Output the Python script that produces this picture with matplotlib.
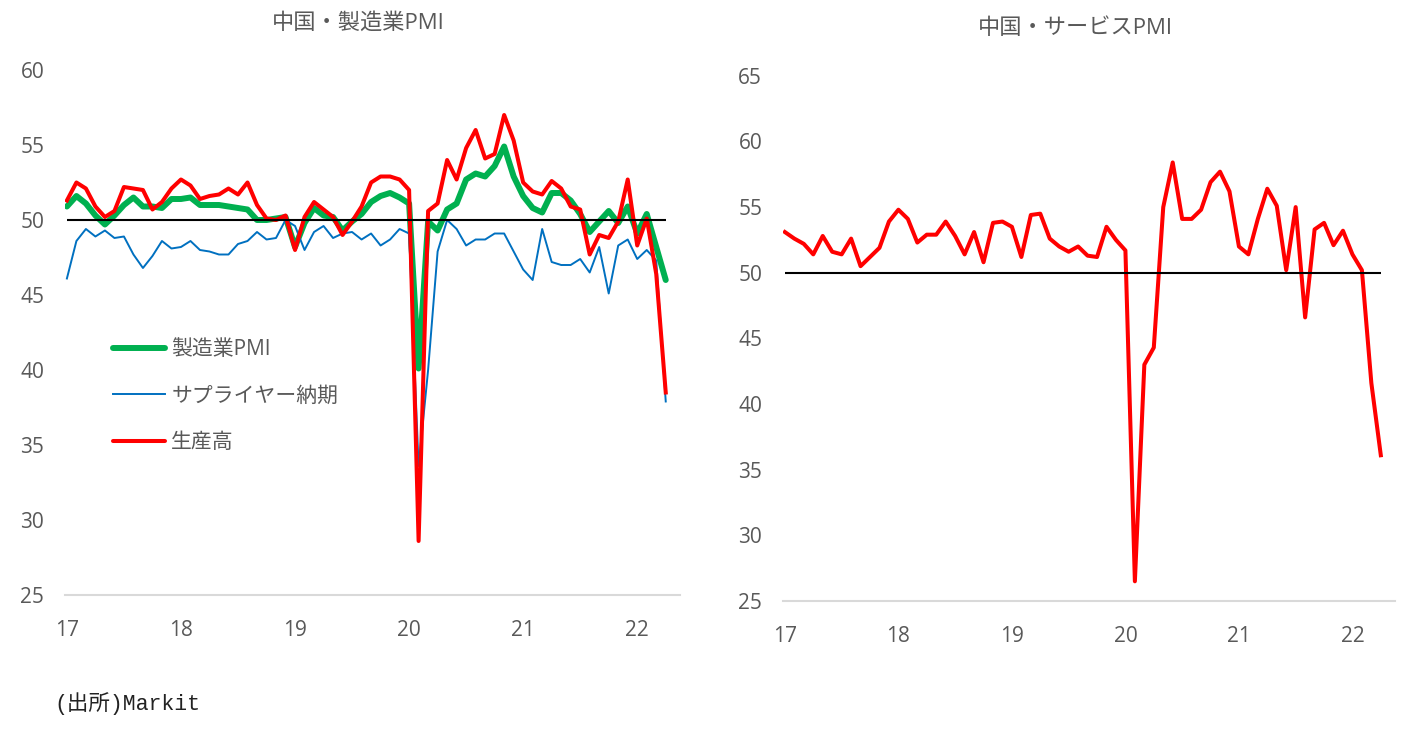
import matplotlib
matplotlib.use("Agg")
import matplotlib.pyplot as plt
from matplotlib.lines import Line2D

plt.rcParams['font.family'] = ['Open Sans', 'Noto Sans CJK JP', 'DejaVu Sans']

# ---- data (monthly, 2017-01 .. 2022-04) ----
year_labels = ['17', '18', '19', '20', '21', '22']

manufacturing_pmi = [
    50.9, 51.6, 51.1, 50.3, 49.7, 50.3, 51.0, 51.5, 50.9, 50.9, 50.8, 51.4,
    51.4, 51.5, 51.0, 51.0, 51.0, 50.9, 50.8, 50.7, 50.0, 50.0, 50.1, 50.2,
    48.2, 49.8, 50.8, 50.3, 50.2, 49.3, 49.9, 50.4, 51.2, 51.6, 51.8, 51.5,
    51.1, 40.1, 49.9, 49.3, 50.7, 51.1, 52.7, 53.1, 52.9, 53.6, 54.9, 52.9,
    51.6, 50.8, 50.5, 51.8, 51.8, 51.3, 50.4, 49.2, 49.9, 50.6, 49.8, 50.9,
    49.1, 50.4, 48.2, 46.0,
]

supplier_delivery = [
    46.1, 48.6, 49.4, 48.9, 49.3, 48.8, 48.9, 47.7, 46.8, 47.6, 48.6, 48.1,
    48.2, 48.6, 48.0, 47.9, 47.7, 47.7, 48.4, 48.6, 49.2, 48.7, 48.8, 50.0,
    49.6, 48.0, 49.2, 49.6, 48.8, 49.1, 49.2, 48.7, 49.1, 48.3, 48.7, 49.4,
    49.1, 33.6, 40.0, 47.9, 50.0, 49.4, 48.3, 48.7, 48.7, 49.1, 49.1, 47.9,
    46.7, 46.0, 49.4, 47.2, 47.0, 47.0, 47.4, 46.5, 48.2, 45.1, 48.3, 48.7,
    47.4, 48.0, 47.3, 37.9,
]

output_index = [
    51.3, 52.5, 52.1, 50.9, 50.2, 50.6, 52.2, 52.1, 52.0, 50.7, 51.2, 52.1,
    52.7, 52.3, 51.4, 51.6, 51.7, 52.1, 51.7, 52.5, 51.0, 50.1, 50.0, 50.3,
    48.0, 50.2, 51.2, 50.7, 50.2, 49.0, 49.9, 50.9, 52.5, 52.9, 52.9, 52.7,
    52.0, 28.6, 50.6, 51.1, 54.0, 52.7, 54.8, 56.0, 54.1, 54.4, 57.0, 55.3,
    52.5, 51.9, 51.7, 52.6, 52.1, 50.9, 50.7, 47.7, 49.0, 48.8, 49.9, 52.7,
    48.3, 50.1, 46.4, 38.5,
]

services_pmi = [
    53.1, 52.6, 52.2, 51.4, 52.8, 51.6, 51.4, 52.6, 50.5, 51.2, 51.9, 53.9,
    54.8, 54.1, 52.3, 52.9, 52.9, 53.9, 52.8, 51.4, 53.1, 50.8, 53.8, 53.9,
    53.5, 51.2, 54.4, 54.5, 52.6, 52.0, 51.6, 52.0, 51.3, 51.2, 53.5, 52.5,
    51.7, 26.5, 43.0, 44.3, 55.0, 58.4, 54.1, 54.1, 54.8, 56.9, 57.7, 56.2,
    52.0, 51.4, 54.1, 56.4, 55.1, 50.2, 55.0, 46.6, 53.3, 53.8, 52.1, 53.2,
    51.4, 50.2, 41.6, 36.1,
]

threshold = 50

series_names = ['製造業PMI', 'サプライヤー納期', '生産高']
titles = ['中国・製造業PMI', '中国・サービスPMI']
source_text = '(出所)Markit'

GREEN = '#00B050'
BLUE = '#0070C0'
RED = '#FF0000'
GRAY = '#595959'

W, H = 1426, 734
fig = plt.figure(figsize=(W / 100, H / 100), dpi=100)

months = list(range(len(manufacturing_pmi)))
year_ticks = months[::12]


def style_axes(ax, ylim, ystep):
    for s in ('top', 'right', 'left'):
        ax.spines[s].set_visible(False)
    ax.spines['bottom'].set_color('#D9D9D9')
    ax.spines['bottom'].set_linewidth(1.5)
    ax.set_xlim(-0.2, len(months) + 0.5)
    ax.set_ylim(*ylim)
    ax.set_yticks(range(ylim[0], ylim[1] + 1, ystep))
    ax.set_xticks(year_ticks)
    ax.set_xticklabels(year_labels)
    ax.tick_params(axis='both', length=0, labelsize=15, labelcolor=GRAY)
    ax.tick_params(axis='x', pad=18)
    ax.tick_params(axis='y', pad=15)


# ---- left: manufacturing ----
ax1 = fig.add_axes([65 / W, 1 - 595 / H, (680 - 65) / W, (595 - 70) / H])
style_axes(ax1, (25, 60), 5)
ax1.plot(months, manufacturing_pmi, color=GREEN, lw=4.3, solid_capstyle='round', zorder=2)
ax1.plot(months, supplier_delivery, color=BLUE, lw=1.4, zorder=3)
ax1.plot(months, output_index, color=RED, lw=2.9, zorder=4)
ax1.hlines(threshold, months[0], months[-1], color='black', lw=1.5, zorder=5)

handles = [
    Line2D([], [], color=GREEN, lw=4.3, solid_capstyle='round'),
    Line2D([], [], color=BLUE, lw=1.4),
    Line2D([], [], color=RED, lw=2.9, solid_capstyle='round'),
]
leg = ax1.legend(handles, series_names, loc='upper left',
                 bbox_to_anchor=(113 / W, 1 - 339 / H), bbox_transform=fig.transFigure,
                 frameon=False, fontsize=15, handlelength=2.5, handletextpad=0.3,
                 labelspacing=1.22, borderpad=0, borderaxespad=0)
for t in leg.get_texts():
    t.set_color(GRAY)

# ---- right: services ----
ax2 = fig.add_axes([783 / W, 1 - 601 / H, (1395 - 783) / W, (601 - 75.8) / H])
style_axes(ax2, (25, 65), 5)
ax2.plot(months, services_pmi, color=RED, lw=2.9, zorder=4)
ax2.hlines(threshold, months[0], months[-1], color='black', lw=1.5, zorder=5)

# ---- titles and source ----
fig.text(358 / W, 1 - 23 / H, titles[0], ha='center', va='center', fontsize=16, color=GRAY)
fig.text(1075 / W, 1 - 28 / H, titles[1], ha='center', va='center', fontsize=16, color=GRAY)
fig.text(54 / W, 1 - 704 / H, source_text, ha='left', va='center', fontsize=15.5,
         family=['Liberation Mono', 'Noto Sans CJK JP'], color='#222222')

fig.savefig('out.png', dpi=100)
